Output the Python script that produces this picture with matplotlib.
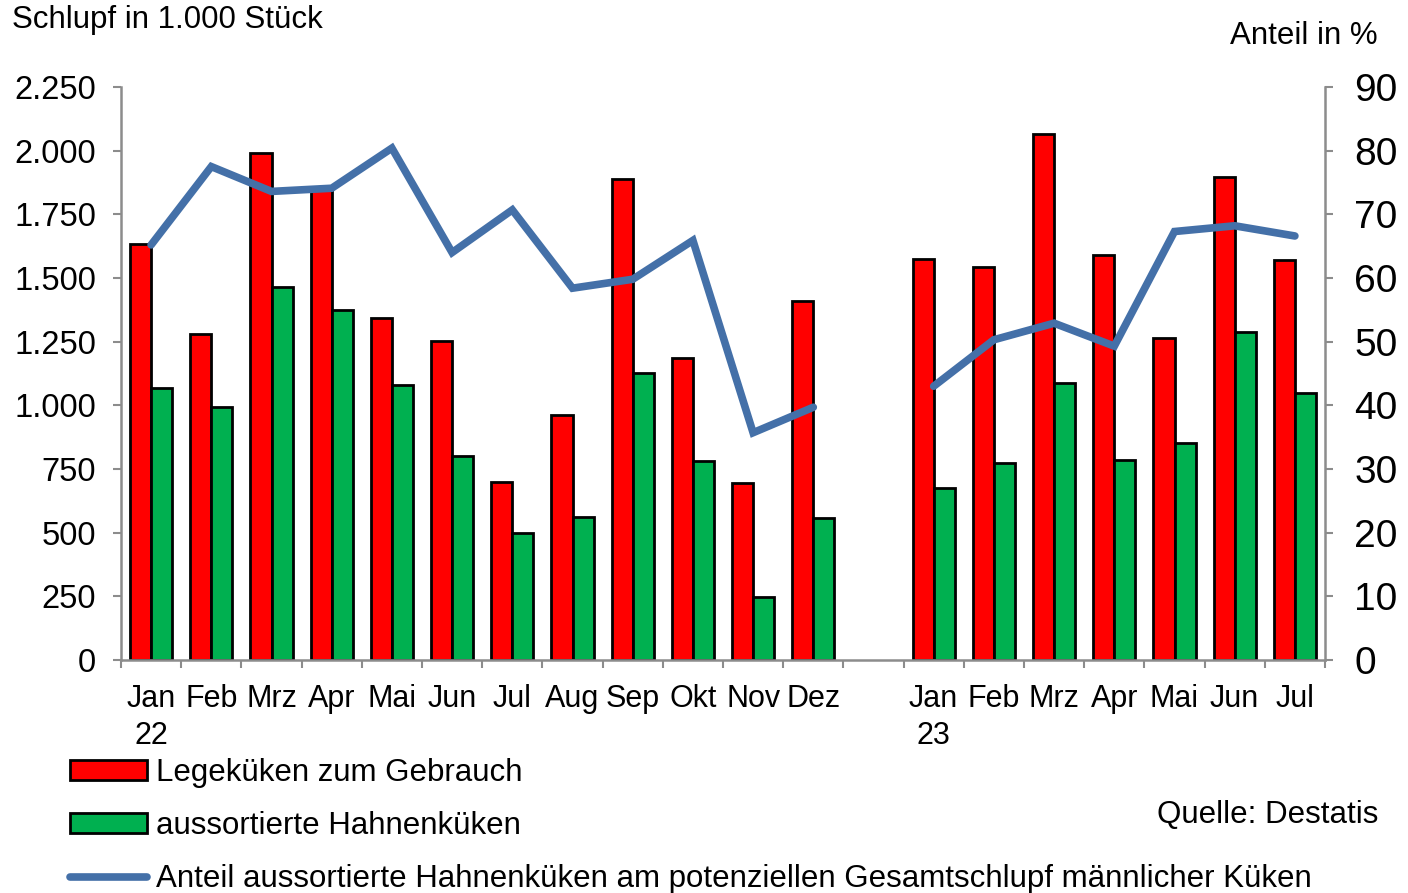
import numpy as np
import matplotlib
matplotlib.use("Agg")
import matplotlib.pyplot as plt
from matplotlib.patches import Patch
from matplotlib.lines import Line2D

plt.rcParams['font.family'] = ['Liberation Sans', 'DejaVu Sans']

# data (1.000 Stück / Prozent)
months_22 = ["Jan\n22", "Feb", "Mrz", "Apr", "Mai", "Jun", "Jul", "Aug", "Sep", "Okt", "Nov", "Dez"]
months_23 = ["Jan\n23", "Feb", "Mrz", "Apr", "Mai", "Jun", "Jul"]

lege_22 = [1635, 1280, 1990, 1855, 1343, 1254, 700, 962, 1889, 1185, 696, 1410]
lege_23 = [1573, 1544, 2065, 1589, 1266, 1898, 1571]

hahn_22 = [1067, 992, 1465, 1376, 1080, 801, 497, 563, 1126, 781, 249, 559]
hahn_23 = [677, 772, 1086, 785, 851, 1289, 1047]

anteil_22 = [65.2, 77.5, 73.6, 74.1, 80.4, 64.0, 70.7, 58.4, 59.8, 65.9, 35.7, 39.7]
anteil_23 = [43.0, 50.3, 52.9, 49.3, 67.3, 68.2, 66.6]

RED = "#FF0000"
GREEN = "#00B050"
BLUE = "#4470A8"
GREY = "#8C8C8C"

# positions: 12 months, one empty slot, 7 months
x22 = np.arange(len(months_22))
x23 = np.arange(len(months_23)) + len(months_22) + 1
n_slots = len(months_22) + 1 + len(months_23)

fig = plt.figure(figsize=(14.08, 8.93), dpi=100)
ax = fig.add_axes([121 / 1408, 1 - 660 / 893, (1325 - 121) / 1408, (660 - 87) / 893])
ax2 = ax.twinx()

w = 0.35
for xs, lege, hahn in [(x22, lege_22, hahn_22), (x23, lege_23, hahn_23)]:
    ax.bar(xs - w / 2, lege, width=w, color=RED, edgecolor="black", linewidth=2)
    ax.bar(xs + w / 2, hahn, width=w, color=GREEN, edgecolor="black", linewidth=2)

ax2.plot(x22, anteil_22, color=BLUE, linewidth=5.5, solid_joinstyle="miter", solid_capstyle="round")
ax2.plot(x23, anteil_23, color=BLUE, linewidth=5.5, solid_joinstyle="miter", solid_capstyle="round")

ax.set_xlim(-0.5, n_slots - 0.5)
ax.set_ylim(0, 2250)
ax2.set_ylim(0, 90)

ax.set_yticks(np.arange(0, 2251, 250))
ax.set_yticklabels([f"{v:,}".replace(",", ".") for v in range(0, 2251, 250)], fontsize=23.5)
ax2.set_yticks(np.arange(0, 91, 10))
ax2.set_yticklabels([str(v) for v in range(0, 91, 10)], fontsize=28)

ax.set_xticks(np.arange(n_slots + 1) - 0.5)
ax.set_xticklabels([])
ax.set_xticks(list(x22) + list(x23), minor=True)
ax.set_xticklabels(months_22 + months_23, minor=True, fontsize=22, linespacing=1.3)

for a in (ax, ax2):
    for s in a.spines.values():
        s.set_color(GREY)
        s.set_linewidth(1.8)
    a.spines["top"].set_visible(False)
ax.spines["right"].set_visible(False)
ax2.spines["left"].set_visible(False)
ax2.spines["bottom"].set_visible(False)

ax.tick_params(axis="y", which="major", direction="out", length=6, width=1.5, color=GREY, pad=12)
ax.tick_params(axis="x", which="major", direction="out", length=6, width=1.5, color=GREY)
ax.tick_params(axis="x", which="minor", length=0, pad=17)
ax2.tick_params(axis="y", direction="out", length=6, width=1.5, color=GREY, pad=15)

fig.text(12 / 1408, 1 - 20 / 893, "Schlupf in 1.000 Stück", fontsize=22.5, va="center", ha="left")
fig.text(1378 / 1408, 1 - 36 / 893, "Anteil in %", fontsize=22.5, va="center", ha="right")
fig.text(1378 / 1408, 1 - 815 / 893, "Quelle: Destatis", fontsize=22.5, va="center", ha="right")

handles = [
    Patch(facecolor=RED, edgecolor="black", linewidth=2),
    Patch(facecolor=GREEN, edgecolor="black", linewidth=2),
    Line2D([], [], color=BLUE, linewidth=5.5, solid_capstyle="round"),
]
labels = [
    "Legeküken zum Gebrauch",
    "aussortierte Hahnenküken",
    "Anteil aussortierte Hahnenküken am potenziellen Gesamtschlupf männlicher Küken",
]
fig.legend(handles, labels, loc="upper left", bbox_to_anchor=(70 / 1408, 1 - 758 / 893),
           frameon=False, fontsize=22.5, handlelength=2.45, handleheight=0.6,
           handletextpad=0.3, labelspacing=0.74, borderpad=0, borderaxespad=0)

fig.savefig("out.png", dpi=100)
